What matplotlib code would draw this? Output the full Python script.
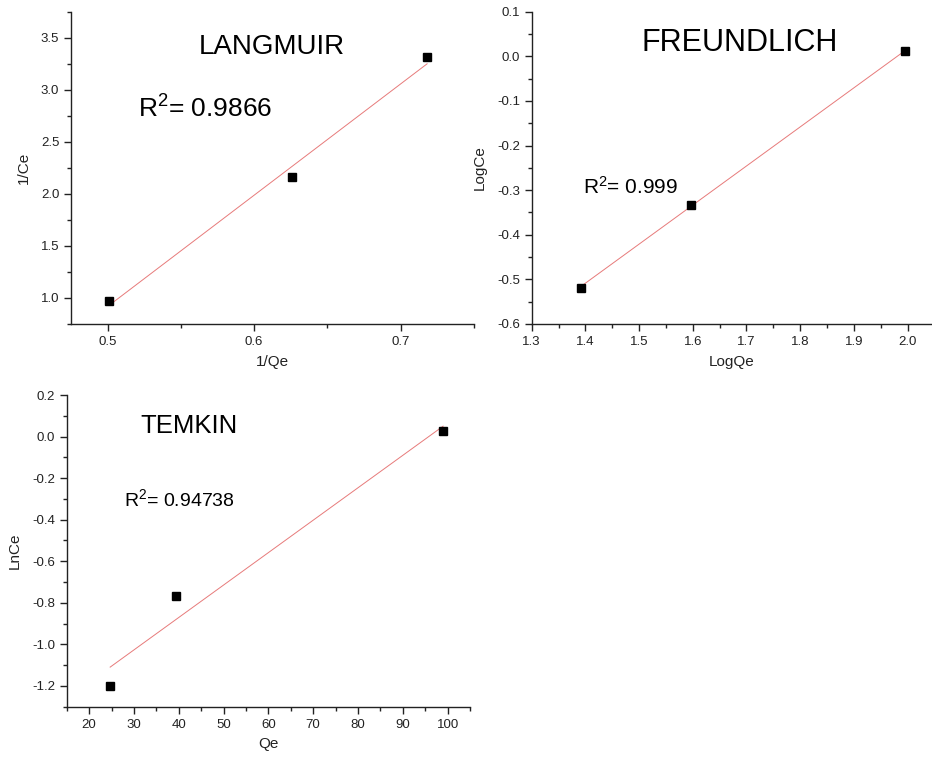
import numpy as np
import matplotlib
matplotlib.use("Agg")
import matplotlib.pyplot as plt
from matplotlib.ticker import MultipleLocator

plt.rcParams['font.family'] = ['Liberation Sans', 'DejaVu Sans']
plt.rcParams['axes.unicode_minus'] = False

# isotherm data (linearised forms)
lang_x = [0.501, 0.626, 0.718]
lang_y = [0.975, 2.159, 3.314]
lang_r2 = "0.9866"

freund_x = [1.391, 1.596, 1.996]
freund_y = [-0.519, -0.333, 0.012]
freund_r2 = "0.999"

temkin_x = [24.7, 39.5, 99.0]
temkin_y = [-1.198, -0.768, 0.028]
temkin_r2 = "0.94738"


def panel(fig, rect, x, y, xlim, ylim, xmaj, xmin, ymaj, ymin,
          xlabel, ylabel, name, name_pos, name_size, r2, r2_pos, r2_size):
    ax = fig.add_axes(rect)
    x = np.array(x)
    y = np.array(y)
    k, b = np.polyfit(x, y, 1)
    xs = np.array([x.min(), x.max()])
    ax.plot(xs, k * xs + b, color='#e77a7a', lw=0.7)
    ax.plot(x, y, 's', color='black', ms=6, zorder=3)

    ax.set_xlim(*xlim)
    ax.set_ylim(*ylim)
    ax.xaxis.set_major_locator(MultipleLocator(xmaj))
    ax.xaxis.set_minor_locator(MultipleLocator(xmin))
    ax.yaxis.set_major_locator(MultipleLocator(ymaj))
    ax.yaxis.set_minor_locator(MultipleLocator(ymin))
    for s in ['top', 'right']:
        ax.spines[s].set_visible(False)
    for s in ['left', 'bottom']:
        ax.spines[s].set_linewidth(1.0)
        ax.spines[s].set_color('#222222')
    ax.tick_params(which='major', direction='out', length=5, width=1,
                   labelsize=9.5, labelcolor='#222222', color='#222222')
    ax.tick_params(which='minor', direction='out', length=3, width=1,
                   color='#222222')
    ax.set_xlabel(xlabel, fontsize=11, color='#222222', labelpad=5)
    ax.set_ylabel(ylabel, fontsize=11, color='#222222', labelpad=7)

    ax.text(name_pos[0], name_pos[1], name, transform=ax.transAxes,
            ha='center', va='center', fontsize=name_size)
    ax.text(r2_pos[0], r2_pos[1], r'$\mathregular{R^2}$= ' + r2,
            transform=ax.transAxes, ha='left', va='baseline', fontsize=r2_size)
    return ax


fig = plt.figure(figsize=(9.32, 7.57), dpi=100)
W, H = 932, 757


def rect(l, r, t, bt):
    return [l / W, (H - bt) / H, (r - l) / W, (bt - t) / H]


panel(fig, rect(71, 474, 12, 324), lang_x, lang_y,
      (0.475, 0.75), (0.75, 3.75), 0.1, 0.05, 0.5, 0.25,
      '1/Qe', '1/Ce', 'LANGMUIR', (0.499, 0.888), 20,
      lang_r2, (0.166, 0.663), 19)

panel(fig, rect(531.7, 931.7, 11.7, 324), freund_x, freund_y,
      (1.3, 2.045), (-0.6, 0.1), 0.1, 0.05, 0.1, 0.05,
      'LogQe', 'LogCe', 'FREUNDLICH', (0.519, 0.899), 22,
      freund_r2, (0.128, 0.418), 15)

panel(fig, rect(66.7, 470, 395, 706.7), temkin_x, temkin_y,
      (15, 105), (-1.3, 0.2), 10, 5, 0.2, 0.1,
      'Qe', 'LnCe', 'TEMKIN', (0.303, 0.9), 18.5,
      temkin_r2, (0.142, 0.642), 14)

fig.savefig('out.png', dpi=100)
